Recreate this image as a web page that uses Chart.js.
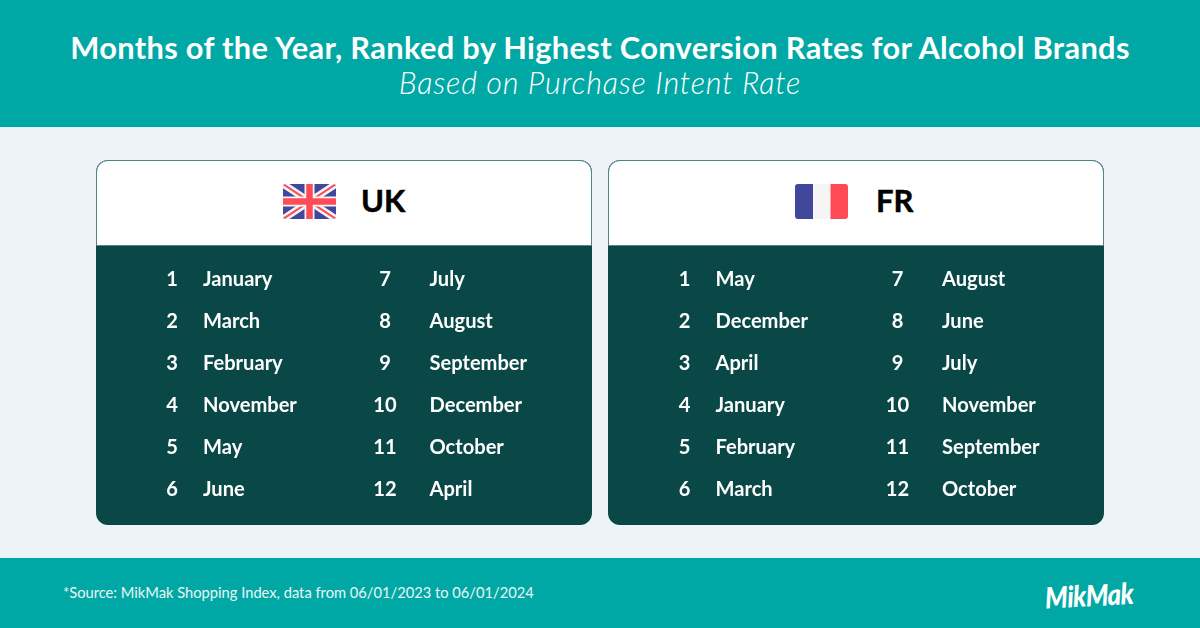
<!DOCTYPE html>
<html><head><meta charset="utf-8">
<script src="https://cdn.jsdelivr.net/npm/chart.js@4"></script>
<style>
html,body{margin:0;padding:0;width:1200px;height:628px;overflow:hidden;background:#EEF3F7;font-family:Lato,sans-serif}
.abs{position:absolute;white-space:nowrap}
#head{left:0;top:0;width:1200px;height:127px;background:#00A8A5}
#foot{left:0;top:558px;width:1200px;height:70px;background:#00A8A5}
#title{left:0;width:1200px;top:29px;text-align:center;color:#fff;font:700 30.8px/38px Lato;letter-spacing:.33px}
#sub{left:0;width:1200px;top:63.5px;text-align:center;color:#fff;font:italic 300 30.5px/36px Lato;letter-spacing:.82px}
#source{left:63px;top:583px;color:#EAF7F6;font:400 14.7px/18px Lato}
#logo{left:1045px;top:579px;color:#fff;font:italic 900 28px/36px Lato;letter-spacing:-.6px;transform:rotate(-3deg) scale(.92,1.05);transform-origin:left center}
.card{position:absolute;top:160px;width:496px;height:365px;border-radius:12px;overflow:hidden;background:#0A4848;}
.top{position:absolute;left:0;top:0;width:494px;height:84px;background:#fff;border:1px solid #4F8585;border-bottom:1px solid #4F8585;border-radius:12px 12px 0 0}
.card canvas{position:absolute;left:0;top:86px}
.name{position:absolute;font:700 31px/36px Lato;color:#000;top:21px;-webkit-text-stroke:.5px #000}
.flag{position:absolute;top:23px;width:53px;height:35px}
</style></head><body>
<div class="abs" id="head"></div>
<div class="abs" id="foot"></div>
<div class="abs" id="title">Months of the Year, Ranked by Highest Conversion Rates for Alcohol Brands</div>
<div class="abs" id="sub">Based on Purchase Intent Rate</div>
<div class="abs" id="source">*Source: MikMak Shopping Index, data from 06/01/2023 to 06/01/2024</div>
<div class="abs" id="logo">MikMak</div>

<div class="card" style="left:96px">
  <div class="top">
    <svg class="flag" style="left:186px" viewBox="0 0 53 35"><defs><clipPath id="c1"><rect width="53" height="35" rx="3"/></clipPath></defs>
      <g clip-path="url(#c1)"><rect width="53" height="35" fill="#41479B"/>
      <path d="M0 0L53 35M53 0L0 35" stroke="#F5F5F5" stroke-width="7"/>
      <path d="M0 0L53 35M53 0L0 35" stroke="#FF4B55" stroke-width="2"/>
      <path d="M26.5 0V35M0 17.5H53" stroke="#F5F5F5" stroke-width="10"/>
      <path d="M26.5 0V35M0 17.5H53" stroke="#FF4B55" stroke-width="6.5"/></g></svg>
    <div class="name" style="left:264px">UK</div>
  </div>
  <canvas id="ukChart" width="496" height="279"></canvas>
</div>
<div class="card" style="left:608px">
  <div class="top">
    <svg class="flag" style="left:186px" viewBox="0 0 53 35"><defs><clipPath id="c2"><rect width="53" height="35" rx="3"/></clipPath></defs>
      <g clip-path="url(#c2)"><rect width="18" height="35" fill="#41479B"/><rect x="18" width="17.5" height="35" fill="#F5F5F5"/><rect x="35.5" width="17.5" height="35" fill="#FF4B55"/></g></svg>
    <div class="name" style="left:267px">FR</div>
  </div>
  <canvas id="frChart" width="496" height="279"></canvas>
</div>

<script>
const ranks = [1,2,3,4,5,6,7,8,9,10,11,12];
const ukMonths = ["January","March","February","November","May","June","July","August","September","December","October","April"];
const frMonths = ["May","December","April","January","February","March","August","June","July","November","September","October"];

const rankTable = {
  id: 'rankTable',
  afterDatasetsDraw(chart) {
    const {ctx, scales: {x, y}} = chart;
    const ds = chart.data.datasets[0];
    ctx.save();
    ctx.fillStyle = '#FFFFFF';
    ctx.font = '700 20.1px Lato';
    ctx.textBaseline = 'middle';
    ds.data.forEach((p, i) => {
      const px = x.getPixelForValue(p.x), py = y.getPixelForValue(p.y);
      ctx.textAlign = 'center';
      ctx.fillText(String(ranks[i]), px, py);
      ctx.textAlign = 'left';
      ctx.fillText(p.month, px + ds.nameGap[p.x], py);
    });
    ctx.restore();
  }
};

function build(id, label, months, left) {
  new Chart(document.getElementById(id), {
    type: 'scatter',
    data: { datasets: [{
      label,
      nameGap: [31, 44.5],
      pointRadius: 0,
      data: months.map((month, i) => ({ x: i < 6 ? 0 : 1, y: (i % 6) + 1, month }))
    }]},
    options: {
      responsive: false, animation: false,
      layout: { padding: { left, right: 496 - left - 213, top: 34, bottom: 35 } },
      plugins: { legend: {display: false}, tooltip: {enabled: false} },
      scales: {
        x: { type: 'linear', display: false, min: 0, max: 1 },
        y: { type: 'linear', display: false, min: 1, max: 6, reverse: true }
      }
    },
    plugins: [rankTable]
  });
}
build('ukChart', 'UK', ukMonths, 76);
build('frChart', 'FR', frMonths, 76.5);
</script>
</body></html>
